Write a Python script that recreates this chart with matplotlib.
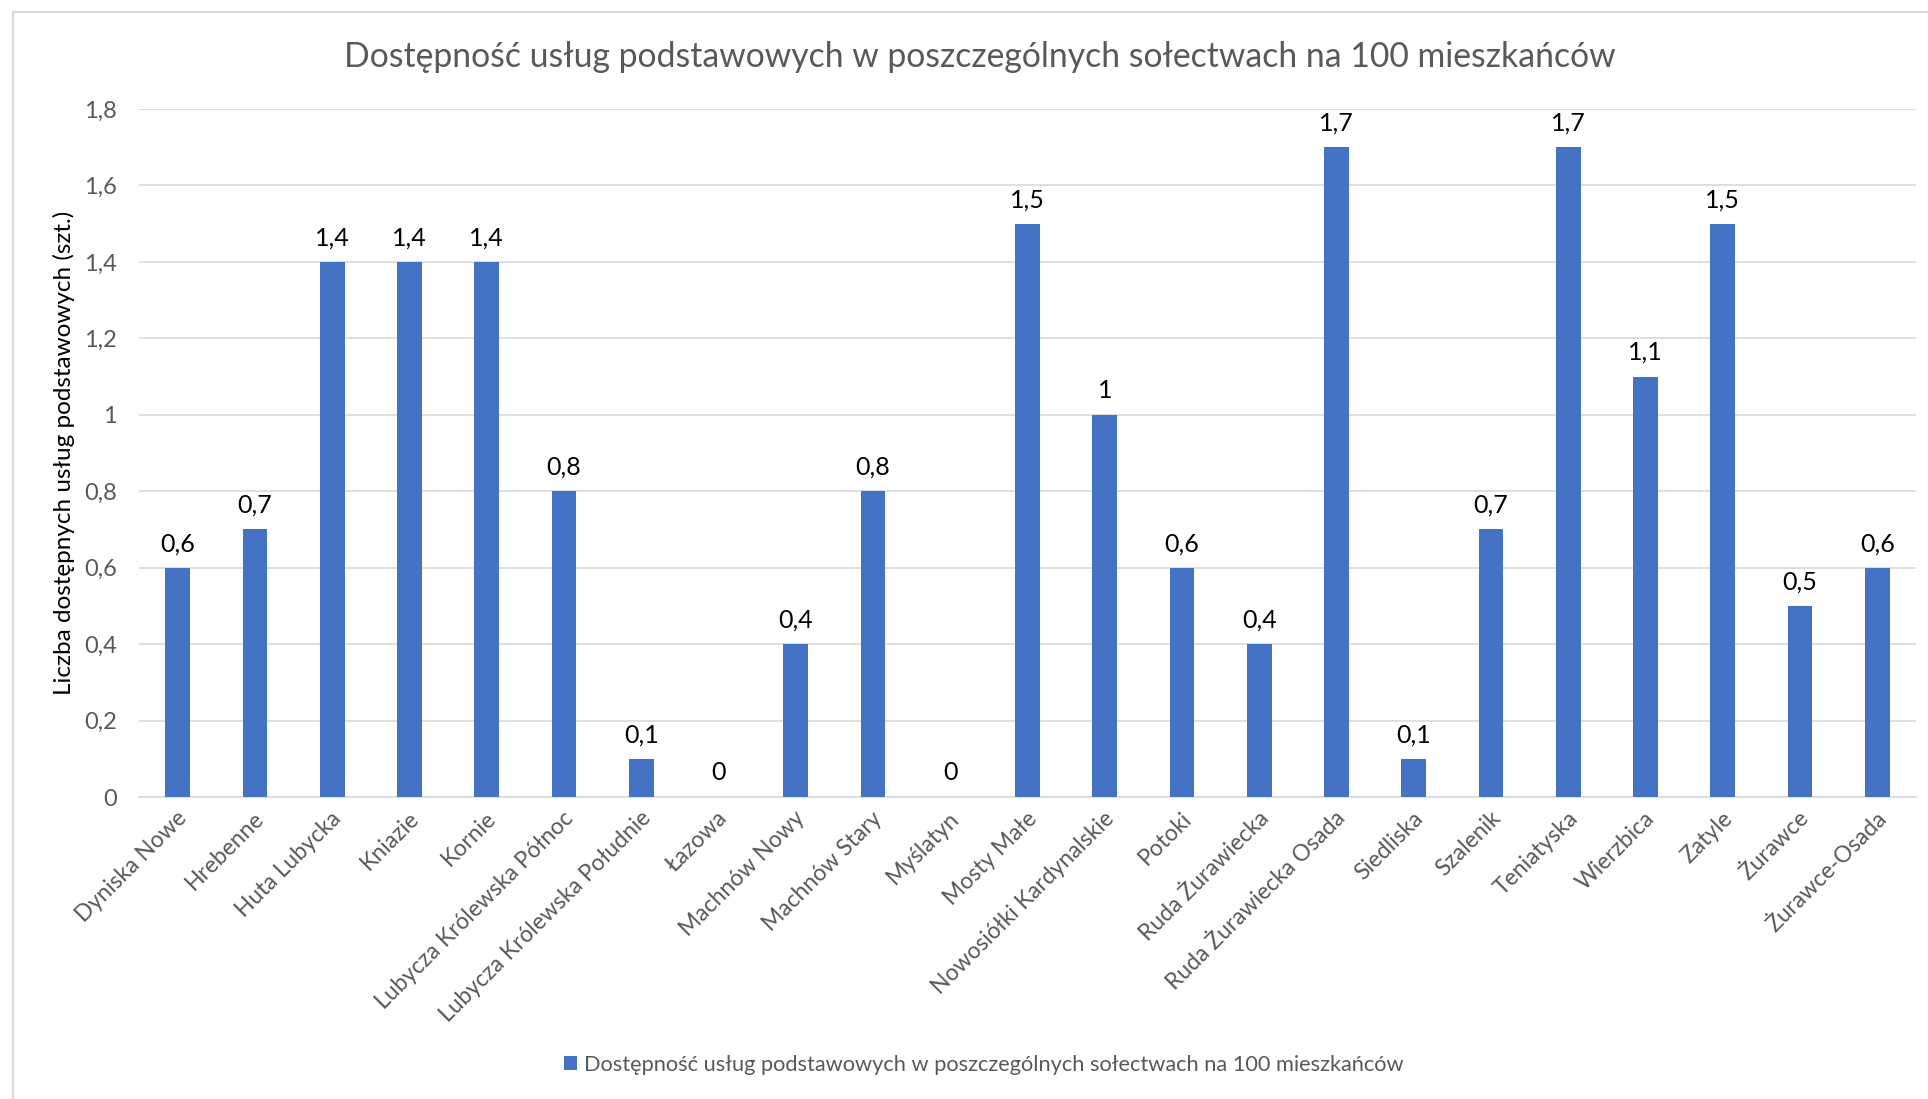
import matplotlib
matplotlib.use("Agg")
import matplotlib.pyplot as plt
from matplotlib.patches import Rectangle
import matplotlib.transforms as mtransforms

plt.rcParams['font.family'] = ['Lato', 'DejaVu Sans']

categories = ["Dyniska Nowe", "Hrebenne", "Huta Lubycka", "Kniazie", "Kornie",
              "Lubycza Królewska Północ", "Lubycza Królewska Południe", "Łazowa",
              "Machnów Nowy", "Machnów Stary", "Myślatyn", "Mosty Małe",
              "Nowosiółki Kardynalskie", "Potoki", "Ruda Żurawiecka",
              "Ruda Żurawiecka Osada", "Siedliska", "Szalenik", "Teniatyska",
              "Wierzbica", "Zatyle", "Żurawce", "Żurawce-Osada"]
values = [0.6, 0.7, 1.4, 1.4, 1.4, 0.8, 0.1, 0, 0.4, 0.8, 0, 1.5, 1, 0.6, 0.4,
          1.7, 0.1, 0.7, 1.7, 1.1, 1.5, 0.5, 0.6]
yticks = [0, 0.2, 0.4, 0.6, 0.8, 1.0, 1.2, 1.4, 1.6, 1.8]
ytick_labels = ["0", "0,2", "0,4", "0,6", "0,8", "1", "1,2", "1,4", "1,6", "1,8"]
series_name = "Dostępność usług podstawowych w poszczególnych sołectwach na 100 mieszkańców"
title = "Dostępność usług podstawowych w poszczególnych sołectwach na 100 mieszkańców"
ylabel = "Liczba dostępnych usług podstawowych (szt.)"

W, H = 1928, 1099
fig = plt.figure(figsize=(W / 100, H / 100), dpi=100)
ax = fig.add_axes([139 / W, 1 - 797 / H, (1916 - 139) / W, (797 - 109) / H])

BLUE = "#4472C4"
GRAY = "#595959"
GRID = "#D9D9D9"

x = list(range(len(categories)))
bars = ax.bar(x, values, width=0.32, color=BLUE, label=series_name, zorder=3)


def fmt(v):
    if float(v).is_integer():
        return str(int(v))
    return str(v).replace(".", ",")


ax.bar_label(bars, labels=[fmt(v) for v in values], padding=9,
             fontsize=18, color="black")

ax.set_xlim(-0.5, len(categories) - 0.5)
ax.set_ylim(0, 1.8)
ax.set_yticks(yticks)
ax.set_yticklabels(ytick_labels)
ax.grid(axis="y", color=GRID, linewidth=1.2, zorder=0)
for s in ["top", "right", "left"]:
    ax.spines[s].set_visible(False)
ax.spines["bottom"].set_color(GRID)
ax.spines["bottom"].set_linewidth(1.2)
ax.tick_params(axis="y", length=0, labelsize=17, labelcolor=GRAY, pad=16)
ax.tick_params(axis="x", length=0, labelsize=16.5, labelcolor=GRAY, pad=13)

ax.set_xticks(x)
ax.set_xticklabels(categories, rotation=45, ha="right", va="center",
                   rotation_mode="anchor")
offset = mtransforms.ScaledTranslation(6 / 100, 0, fig.dpi_scale_trans)
for lbl in ax.get_xticklabels():
    lbl.set_transform(lbl.get_transform() + offset)

ax.set_ylabel(ylabel, fontsize=17.5, color="black")
ax.yaxis.set_label_coords(-0.036, 0.5)

fig.text(980 / W, 1 - 57 / H, title, ha="center", va="center",
         fontsize=24.3, color=GRAY)

fig.legend(handles=[bars], labels=[series_name], loc="center",
           bbox_to_anchor=(984 / W, 1 - 1065 / H), frameon=False,
           fontsize=15.7, labelcolor=GRAY, handlelength=0.6, handleheight=0.6,
           handletextpad=0.3)

fig.patches.append(Rectangle((13 / W, -0.1), 1.2, 1 - 12 / H + 0.1,
                             transform=fig.transFigure, fill=False,
                             edgecolor=GRID, linewidth=1.5, zorder=0))

fig.savefig("out.png", dpi=100, facecolor="white")
